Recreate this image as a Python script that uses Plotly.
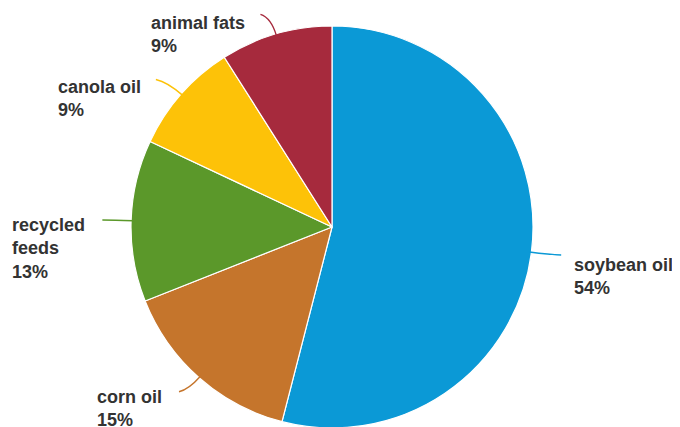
import math
import plotly.graph_objects as go

# data
labels = ['soybean oil', 'corn oil', 'recycled feeds', 'canola oil', 'animal fats']
label_text = ['soybean oil<br>54%', 'corn oil<br>15%', 'recycled<br>feeds<br>13%',
              'canola oil<br>9%', 'animal fats<br>9%']
values = [54, 15, 13, 9, 9]
colors = ['#0b99d6', '#c5752c', '#5b982a', '#fdc208', '#a62a3d']

W, H = 680, 427
# the page body has an 8px margin, so figure coords are screen coords - 8
CX, CY, R = 324, 219, 201  # pie centre / radius in pixels

# per-label layout: leader length, text anchor side, text offset from leader end (px)
label_layout = {
    'soybean oil':    dict(lead=26, side='left',  dx=11, dy=-2),
    'corn oil':       dict(lead=22, side='right', dx=-15, dy=-7),
    'recycled feeds': dict(lead=25, side='right', dx=-15, dy=-7),
    'canola oil':     dict(lead=26, side='right', dx=-13, dy=-4),
    'animal fats':    dict(lead=24, side='right', dx=-13, dy=-3),
}


def px(x, y):
    return x / W, 1 - y / H


fig = go.Figure()

fig.add_trace(go.Pie(
    labels=labels,
    values=values,
    sort=False,
    direction='clockwise',
    rotation=0,
    textinfo='none',
    hoverinfo='label+percent',
    marker=dict(colors=colors, line=dict(color='white', width=1.2)),
    domain=dict(x=[(CX - R) / W, (CX + R) / W],
                y=[1 - (CY + R) / H, 1 - (CY - R) / H]),
    showlegend=False,
))

# leader lines and labels, placed from the slice mid angles
total = sum(values)
cum = 0
for lab, txt, v, c in zip(labels, label_text, values, colors):
    mid = (cum + v / 2) / total * 2 * math.pi
    cum += v
    dx, dy = math.sin(mid), -math.cos(mid)
    lay = label_layout[lab]
    sx, sy = CX + (R - 2) * dx, CY + (R - 2) * dy
    qx, qy = CX + (R + lay['lead'] * 0.7) * dx, CY + (R + lay['lead'] * 0.7) * dy
    hor = -1 if lay['side'] == 'right' else 1
    ex, ey = qx + hor * lay['lead'] * 0.45, qy + dy * lay['lead'] * 0.15
    p0, p1, p2 = px(sx, sy), px(qx, qy), px(ex, ey)
    fig.add_shape(
        type='path', xref='paper', yref='paper',
        path=f'M {p0[0]} {p0[1]} Q {p1[0]} {p1[1]} {p2[0]} {p2[1]}',
        line=dict(color=c, width=1.4),
    )
    tx, ty = px(ex + lay['dx'], ey + lay['dy'])
    fig.add_annotation(
        x=tx, y=ty, xref='paper', yref='paper',
        text=f'<b>{txt}</b>', showarrow=False,
        xanchor=lay['side'], yanchor='top', align='left',
        font=dict(family='Liberation Sans, Arial, sans-serif', size=18, color='#333333'),
    )

fig.update_layout(
    width=W,
    height=H,
    margin=dict(l=0, r=0, t=0, b=0),
    paper_bgcolor='white',
    plot_bgcolor='white',
)

fig.write_html("out.html")
